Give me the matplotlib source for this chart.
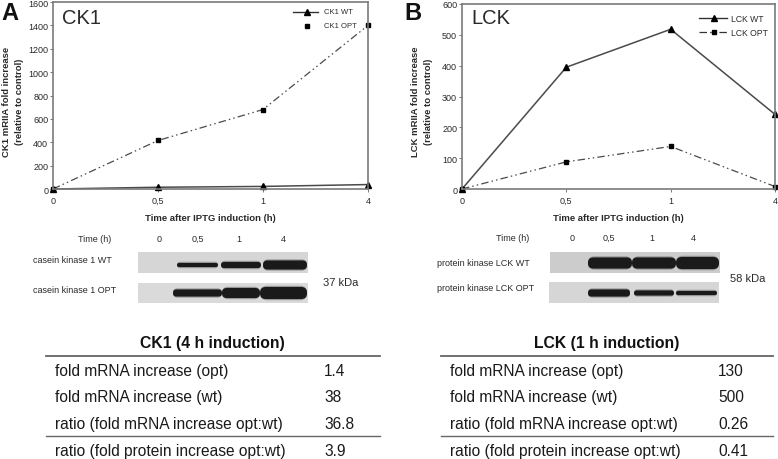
import matplotlib
matplotlib.use("Agg")
import matplotlib.pyplot as plt
from matplotlib.patches import Rectangle, FancyBboxPatch

plt.rcParams['font.family'] = ['Liberation Sans', 'DejaVu Sans']

time_labels = ['0', '0,5', '1', '4']
ck1_wt = [0, 15, 22, 38]
ck1_opt = [0, 415, 680, 1400]
lck_wt = [0, 395, 518, 242]
lck_opt = [0, 88, 138, 8]
ck1_ticks = [0, 200, 400, 600, 800, 1000, 1200, 1400, 1600]
lck_ticks = [0, 100, 200, 300, 400, 500, 600]

table_rows = ['fold mRNA increase (opt)', 'fold mRNA increase (wt)',
              'ratio (fold mRNA increase opt:wt)', 'ratio (fold protein increase opt:wt)']
ck1_vals = ['1.4', '38', '36.8', '3.9']
lck_vals = ['130', '500', '0.26', '0.41']

W, H = 778, 460
fig = plt.figure(figsize=(W / 100, H / 100), dpi=100)
bg = fig.add_axes([0, 0, 1, 1])
bg.set_xlim(0, W)
bg.set_ylim(H, 0)
bg.axis('off')
GR = '#7a7a7a'
TX = '#2a2a2a'
DASH = (0, (6, 2.5, 1.2, 2.5, 1.2, 2.5))


def line_panel(box, wt, opt, ticks, ymax, name, ylabels):
    l, t, r, b = box
    ax = fig.add_axes([l / W, 1 - b / H, (r - l) / W, (b - t) / H])
    x = range(len(time_labels))
    ax.plot(x, wt, color='#4a4a4a', lw=1.1, marker='^', ms=5, mfc='k', mec='k', clip_on=False)
    ax.plot(x, opt, color='#4a4a4a', lw=0.9, ls=DASH, marker='s', ms=3.4, mfc='k', mec='k', clip_on=False)
    ax.set_xlim(0, 3)
    ax.set_ylim(0, ymax)
    ax.set_xticks(list(x))
    ax.set_xticklabels(time_labels, fontsize=6.5, color=TX)
    ax.set_yticks(ticks)
    ax.tick_params(axis='y', labelsize=6.5, length=2, width=0.7, color=GR, pad=1.5, labelcolor=TX)
    ax.tick_params(axis='x', length=2, width=0.7, color=GR, pad=3)
    ax.set_facecolor('none')
    for s in ax.spines.values():
        s.set_color(GR)
        s.set_linewidth(1.2)
    ax.set_xlabel('Time after IPTG induction (h)', fontsize=6.8, fontweight='bold', color=TX, labelpad=5.5)
    bg.text(l + 9, 18, name, fontsize=14.5, color=TX, va='center')
    bg.text(l - 46, 102, ylabels[0], rotation=90, fontsize=6.8, fontweight='bold', color=TX, ha='center', va='center')
    bg.text(l - 33, 102, ylabels[1], rotation=90, fontsize=6.8, fontweight='bold', color=TX, ha='center', va='center')
    return ax


line_panel((53, 3, 368, 190), ck1_wt, ck1_opt, ck1_ticks, 1600, 'CK1',
           ('CK1 mRIIA fold increase', '(relative to control)'))
line_panel((462, 5, 775, 190), lck_wt, lck_opt, lck_ticks, 600, 'LCK',
           ('LCK mRIIA fold increase', '(relative to control)'))

# legends by hand, the CK1 one has no line for OPT
bg.plot([293, 318], [13, 13], color='#333333', lw=1.0)
bg.plot([307], [13], marker='^', ms=4.5, color='k')
bg.plot([307], [27], marker='s', ms=3.2, color='k')
bg.text(324, 13, 'CK1 WT', fontsize=5.5, va='center', color=TX)
bg.text(324, 27, 'CK1 OPT', fontsize=5.5, va='center', color=TX)

bg.plot([699, 727], [19, 19], color='#333333', lw=1.0)
bg.plot([699, 727], [33, 33], color='#333333', lw=0.9, ls=DASH)
bg.plot([714], [19], marker='^', ms=5, color='k')
bg.plot([714], [33], marker='s', ms=3.2, color='k')
bg.text(731, 19, 'LCK WT', fontsize=6.2, va='center', color=TX)
bg.text(731, 33, 'LCK OPT', fontsize=6.2, va='center', color=TX)

bg.text(1, 13, 'A', fontsize=17, fontweight='bold', va='center', color='#111111')
bg.text(404, 13, 'B', fontsize=17, fontweight='bold', va='center', color='#111111')


def blot(x0, y0, w, h, cy, bands, shade):
    # background of the gel, then soft edged bands
    bg.add_patch(Rectangle((x0, y0), w, h, fc=shade, ec='none', zorder=1))
    for xa, xb, bh in bands:
        for grow, a in [(3, 0.15), (1.5, 0.3), (0, 1)]:
            hh = bh + grow
            rad = hh * 0.48
            bg.add_patch(FancyBboxPatch((xa + rad, cy - hh / 2 + rad), xb - xa - 2 * rad, hh - 2 * rad,
                                        boxstyle='round,pad=%f' % rad, fc='#1a1a1a', ec='none', alpha=a, zorder=2))


def time_row(xs, y):
    for txt, xp in zip(['Time (h)'] + time_labels, xs):
        bg.text(xp, y, txt, fontsize=6.5, ha='center', va='baseline', color=TX)


# western blots, A
time_row([95, 159, 198, 239, 283], 242)
bg.text(33, 261, 'casein kinase 1 WT', fontsize=6.5, va='center', color=TX)
bg.text(33, 291, 'casein kinase 1 OPT', fontsize=6.5, va='center', color=TX)
blot(138, 253, 170, 21, 266, [(177, 218, 4), (221, 261, 6), (263, 307, 9)], '#d6d6d6')
blot(138, 284, 170, 20, 294, [(173, 222, 7), (222, 260, 10), (260, 307, 12)], '#dadada')
bg.text(323, 283, '37 kDa', fontsize=8, va='center', color=TX)

# western blots, B
time_row([513, 572, 609, 652, 693], 241)
bg.text(437, 264, 'protein kinase LCK WT', fontsize=6.5, va='center', color=TX)
bg.text(437, 289, 'protein kinase LCK OPT', fontsize=6.5, va='center', color=TX)
blot(550, 253, 170, 21, 264, [(588, 632, 11), (632, 676, 11), (676, 719, 12)], '#cccccc')
blot(549, 283, 170, 21, 294, [(588, 630, 7), (634, 674, 5), (676, 717, 4)], '#d6d6d6')
bg.text(730, 279, '58 kDa', fontsize=8, va='center', color=TX)


def table(x0, x1, textx, valx, titlex, title, vals):
    bg.text(titlex, 344, title, fontsize=11.3, fontweight='bold', ha='center', va='center', color='#111111')
    for y, lab, v in zip([372, 398, 425, 452], table_rows, vals):
        bg.text(textx, y, lab, fontsize=11.2, va='center', color='#1a1a1a')
        bg.text(valx, y, v, fontsize=11.2, va='center', color='#1a1a1a')
    bg.plot([x0, x1], [357, 357], color='#666666', lw=1.3)
    bg.plot([x0, x1], [437, 437], color='#666666', lw=1.0)


table(46, 380, 55, 324, 212, 'CK1 (4 h induction)', ck1_vals)
table(441, 773, 450, 718, 607, 'LCK (1 h induction)', lck_vals)

fig.savefig('out.png', dpi=100)
